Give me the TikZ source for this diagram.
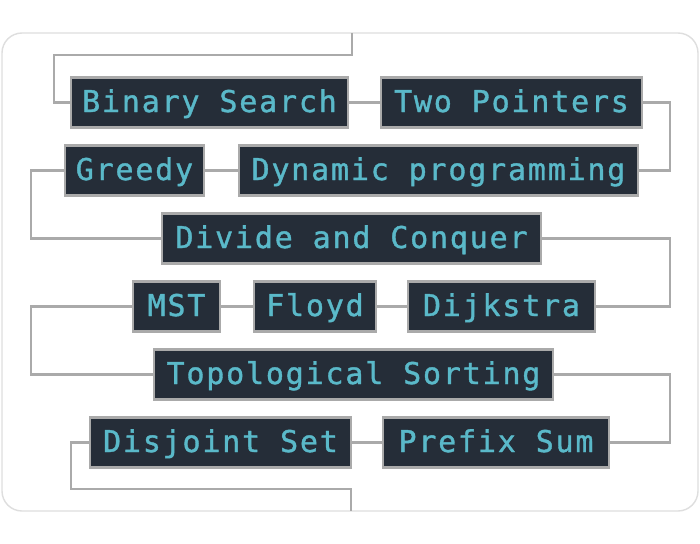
\documentclass[tikz,border=0pt]{standalone}
\usepackage{fontspec}
\newfontfamily\codefont[LetterSpace=6,FakeBold=1.2]{DejaVu Sans Mono}
\usepackage{xcolor}
\definecolor{boxfill}{HTML}{252D38}
\definecolor{boxtext}{HTML}{5AB9C9}
\definecolor{linkgray}{HTML}{AAAAAA}
\definecolor{framegray}{HTML}{DEDEDE}

\begin{document}
\begin{tikzpicture}[x=1pt,y=-1pt,
	algo/.style={draw=linkgray, line width=2.4pt, fill=boxfill, text=boxtext,
		font=\codefont\fontsize{30}{36}\selectfont, inner xsep=11pt, inner ysep=0pt,
		text height=26pt, text depth=7pt, minimum height=50pt, minimum width=#1},
	algo/.default=10pt,
	link/.style={draw=linkgray, line width=2.2pt}]
\useasboundingbox (0,0) rectangle (700,543);
\draw[framegray, line width=1.4pt, fill=white, rounded corners=20pt] (2,33) rectangle (698,511);

% rails and loose ends
\coordinate (railL) at (31,0);
\coordinate (railR) at (670,0);
\coordinate (topend) at (352,33);
\coordinate (botend) at (351,511);

\node[algo=275pt] (bs) at (209.5,102.5) {Binary Search};
\node[algo=261pt] (tp) at (511.5,102.5) {Two Pointers};
\node[algo=137pt] (gr) at (134.5,170.5) {Greedy};
\node[algo=399pt] (dp) at (438.5,170.5) {Dynamic programming};
\node[algo=379pt] (dc) at (351.5,238.5) {Divide and Conquer};
\node[algo=87pt] (mst) at (176.5,306.5) {MST};
\node[algo=122pt] (fl) at (315,306.5) {Floyd};
\node[algo=187pt] (dj) at (501.5,306.5) {Dijkstra};
\node[algo=399pt] (ts) at (353.5,374.5) {Topological Sorting};
\node[algo=261pt] (ds) at (220.5,442.5) {Disjoint Set};
\node[algo=226pt] (ps) at (496,442.5) {Prefix Sum};

\draw[link] (topend) |- (54,55) |- (bs.west);
\draw[link] (bs.east) -- (tp.west);
\draw[link] (tp.east) -- (tp.east -| railR) |- (dp.east);
\draw[link] (dp.west) -- (gr.east);
\draw[link] (gr.west) -- (gr.west -| railL) |- (dc.west);
\draw[link] (dc.east) -- (dc.east -| railR) |- (dj.east);
\draw[link] (dj.west) -- (fl.east);
\draw[link] (fl.west) -- (mst.east);
\draw[link] (mst.west) -- (mst.west -| railL) |- (ts.west);
\draw[link] (ts.east) -- (ts.east -| railR) |- (ps.east);
\draw[link] (ps.west) -- (ds.east);
\draw[link] (ds.west) -| (71,489) -| (botend);
\end{tikzpicture}
\end{document}
